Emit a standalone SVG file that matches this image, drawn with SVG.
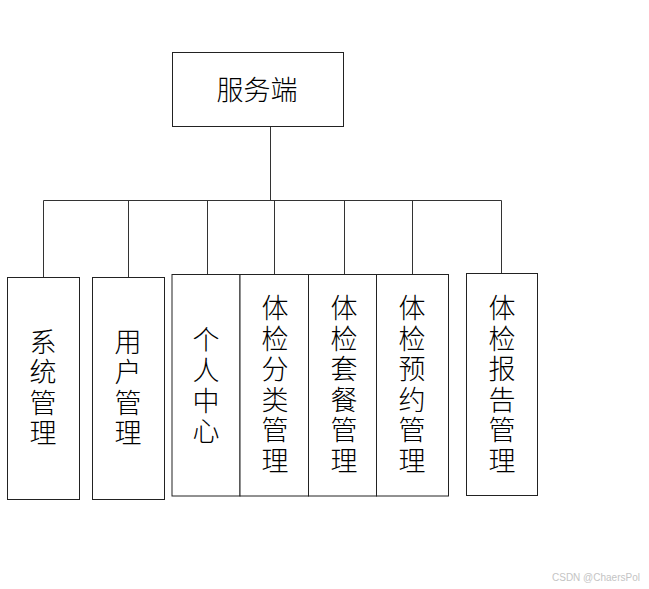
<svg xmlns="http://www.w3.org/2000/svg" width="649" height="589" viewBox="0 0 649 589">
<style>
.box{fill:#fff;stroke:#222;stroke-width:1}
.ln{fill:none;stroke:#333;stroke-width:1}
.t{font-family:"Noto Sans CJK SC","Noto Sans CJK JP",sans-serif;font-size:27px;font-weight:300;fill:#000;text-anchor:middle}
.v{writing-mode:vertical-rl;text-orientation:upright;letter-spacing:3.5px}
.wm{font-family:"Liberation Sans",Arial,sans-serif;font-size:10px;fill:#c4c4c4}
</style>
<rect width="649" height="589" fill="#fff"/>
<g id="connectors">
<path class="ln" d="M270.5,126.5V200.5M43.5,200.5H501.5M43.5,200.5V277.5M128.5,200.5V277.5M207.5,200.5V274.5M274.5,200.5V274.5M344.5,200.5V274.5M412.5,200.5V274.5M501.5,200.5V273.5"/>
</g>
<g id="root"><rect class="box" x="172.5" y="52.5" width="171" height="74"/><text class="t" x="257" y="100">服务端</text></g>
<g id="n1"><rect class="box" x="7.5" y="277.5" width="72" height="222"/><text class="t v" x="43" y="389">系统管理</text></g>
<g id="n2"><rect class="box" x="92.5" y="277.5" width="72" height="222"/><text class="t v" x="128" y="389">用户管理</text></g>
<g id="n3"><rect class="box" x="172" y="274.5" width="68" height="221.5"/><text class="t v" x="206" y="387">个人中心</text></g>
<g id="n4"><rect class="box" x="240" y="274.5" width="68.5" height="221.5"/><text class="t v" x="275" y="386">体检分类管理</text></g>
<g id="n5"><rect class="box" x="308.5" y="274.5" width="68" height="221.5"/><text class="t v" x="344" y="386">体检套餐管理</text></g>
<g id="n6"><rect class="box" x="376.5" y="274.5" width="72" height="221.5"/><text class="t v" x="412" y="386">体检预约管理</text></g>
<g id="n7"><rect class="box" x="466.5" y="273.5" width="71" height="222"/><text class="t v" x="502" y="386">体检报告管理</text></g>
<text class="wm" x="552" y="581">CSDN @ChaersPol</text>
</svg>
